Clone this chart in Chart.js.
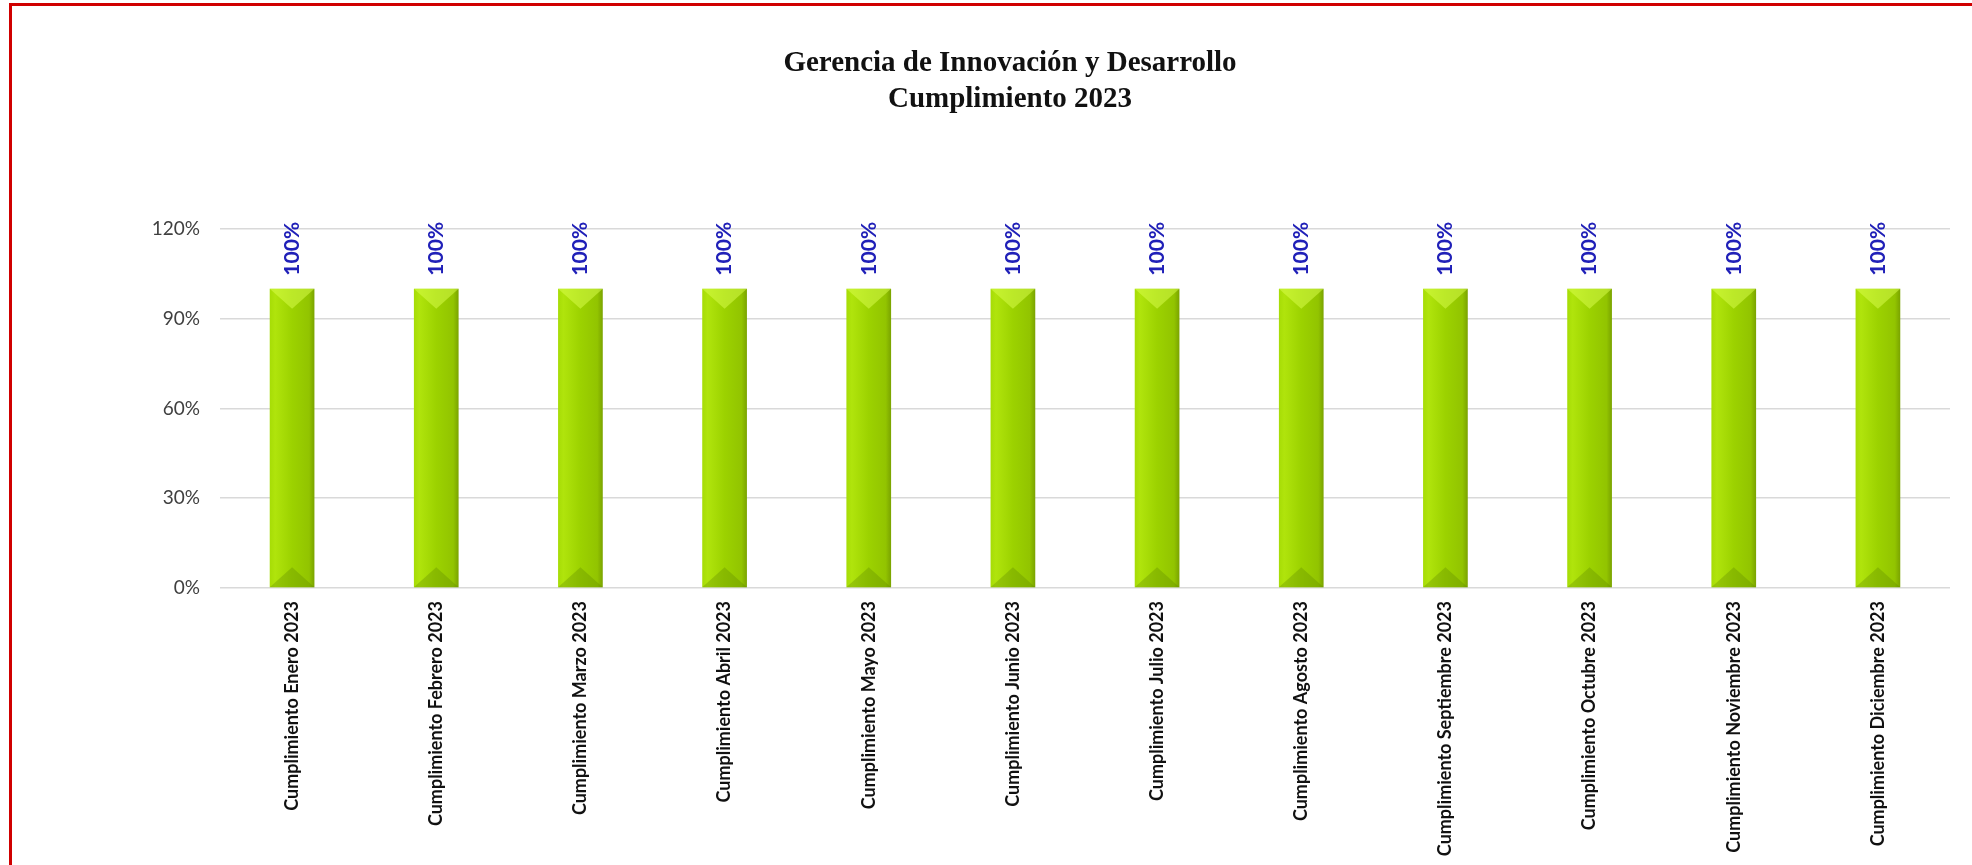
<!DOCTYPE html>
<html>
<head>
<meta charset="utf-8">
<script src="https://cdn.jsdelivr.net/npm/chart.js@4"></script>
<style>
  html, body { margin: 0; padding: 0; background: #fff; overflow: hidden; }
  #frame {
    position: absolute; left: 9px; top: 3px; width: 1975px; height: 859px;
    border-left: 3px solid #d00000; border-top: 3px solid #d00000;
    border-bottom: 1px solid #d0d0d0;
  }
  #wrap { position: absolute; left: 0; top: 0; width: 1972px; height: 865px; }
</style>
</head>
<body>
<div id="frame"></div>
<div id="wrap"><canvas id="chart"></canvas></div>
<script>
// Cumplimiento mensual 2023
const months = ["Enero", "Febrero", "Marzo", "Abril", "Mayo", "Junio", "Julio",
    "Agosto", "Septiembre", "Octubre", "Noviembre", "Diciembre"];
const categories = months.map(m => "Cumplimiento " + m + " 2023");
const values = [100, 100, 100, 100, 100, 100, 100, 100, 100, 100, 100, 100];
const yTicks = [0, 30, 60, 90, 120];
const titleLines = ["Gerencia de Innovación y Desarrollo", "Cumplimiento 2023"];

const BAR_PCT = 0.31;

// horizontal gradient across each bar (scales are laid out before bars update)
function barFill(ctx) {
    const chart = ctx.chart;
    const xs = chart.scales.x;
    if (!xs || !chart.chartArea) return "#9fd400";
    const cx = xs.getPixelForValue(ctx.dataIndex);
    const half = (chart.chartArea.width / categories.length) * BAR_PCT / 2;
    const g = chart.ctx.createLinearGradient(cx - half, 0, cx + half, 0);
    g.addColorStop(0, "#a6dc06");
    g.addColorStop(0.12, "#b0e40c");
    g.addColorStop(0.5, "#9cd200");
    g.addColorStop(0.88, "#92c400");
    g.addColorStop(1, "#7aa300");
    return g;
}

// bevel look on top and bottom of every bar
const bevelPlugin = {
    id: "bevel",
    afterDatasetsDraw(chart) {
        const c = chart.ctx;
        chart.getDatasetMeta(0).data.forEach(bar => {
            const l = bar.x - bar.width / 2, r = bar.x + bar.width / 2;
            const d = bar.width / 2;
            c.save();
            c.fillStyle = "rgba(220,255,80,0.5)";
            c.beginPath();
            c.moveTo(l, bar.y); c.lineTo(r, bar.y); c.lineTo(bar.x, bar.y + d * 0.9); c.closePath();
            c.fill();
            c.fillStyle = "rgba(90,130,0,0.3)";
            c.beginPath();
            c.moveTo(l, bar.base); c.lineTo(r, bar.base); c.lineTo(bar.x, bar.base - d * 0.9); c.closePath();
            c.fill();
            c.restore();
        });
    }
};

// rotated value labels above bars
const valueLabels = {
    id: "valueLabels",
    afterDatasetsDraw(chart) {
        const c = chart.ctx;
        chart.getDatasetMeta(0).data.forEach((bar, i) => {
            c.save();
            c.translate(bar.x, bar.y - 13);
            c.rotate(-Math.PI / 2);
            c.font = "bold 21px Lato";
            c.fillStyle = "#2020b8";
            c.textAlign = "left";
            c.textBaseline = "middle";
            c.fillText(values[i] + "%", 0, 0);
            c.restore();
        });
    }
};

new Chart(document.getElementById("chart"), {
    type: "bar",
    data: {
        labels: categories,
        datasets: [{
            data: values,
            backgroundColor: barFill,
            borderWidth: 0,
            barPercentage: BAR_PCT,
            categoryPercentage: 1
        }]
    },
    options: {
        responsive: true,
        maintainAspectRatio: false,
        animation: false,
        layout: { padding: { left: 70, right: 22, top: 0, bottom: 0 } },
        plugins: {
            legend: { display: false },
            tooltip: { enabled: false },
            title: {
                display: true,
                text: titleLines,
                color: "#111",
                font: { family: "Liberation Serif", size: 29, weight: "bold", lineHeight: 1.22 },
                padding: { top: 46, bottom: 112 }
            }
        },
        scales: {
            x: {
                grid: { display: false },
                border: { display: false },
                ticks: {
                    color: "#111",
                    font: { family: "Lato", size: 18, weight: "bold" },
                    maxRotation: 90, minRotation: 90,
                    padding: 5,
                    autoSkip: false
                },
                afterFit(scale) { scale.height = 277; }
            },
            y: {
                min: 0, max: 120,
                afterBuildTicks(scale) { scale.ticks = yTicks.map(v => ({ value: v })); },
                grid: { color: "#d9d9d9", lineWidth: 1.5, drawTicks: false },
                border: { display: false },
                ticks: {
                    color: "#404040",
                    font: { family: "Lato", size: 19 },
                    padding: 20,
                    callback: v => v + "%"
                },
                afterFit(scale) { scale.width = 150; }
            }
        }
    },
    plugins: [bevelPlugin, valueLabels]
});
</script>
</body>
</html>
